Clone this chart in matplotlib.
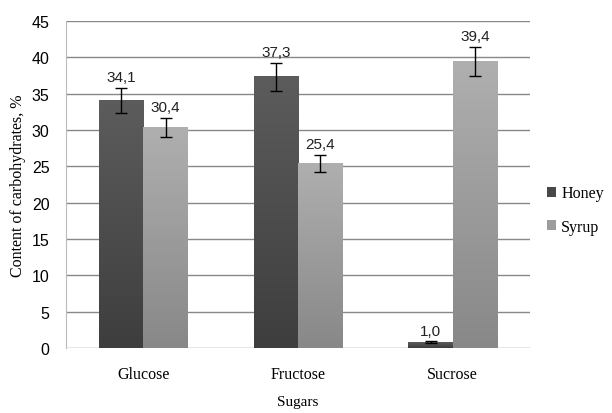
import matplotlib
matplotlib.use("Agg")
import matplotlib.pyplot as plt
import numpy as np
from matplotlib.patches import Patch
from matplotlib.colors import LinearSegmentedColormap

categories = ["Glucose", "Fructose", "Sucrose"]
honey = [34.1, 37.3, 0.8]
honey_err = [1.7, 1.9, 0.1]
honey_labels = ["34,1", "37,3", "1,0"]
syrup = [30.4, 25.4, 39.4]
syrup_err = [1.3, 1.2, 2.0]
syrup_labels = ["30,4", "25,4", "39,4"]
yticks = [0, 5, 10, 15, 20, 25, 30, 35, 40, 45]

narrow = ["Liberation Sans Narrow", "Liberation Sans", "DejaVu Sans"]
serif = ["Liberation Serif", "DejaVu Serif"]

fig = plt.figure(figsize=(6.12, 4.14), dpi=100)
ax = fig.add_axes([0.108, 0.157, 0.758, 0.79])

x = np.arange(len(categories))
w = 0.286
cm_honey = LinearSegmentedColormap.from_list("h", ["#3e3e3e", "#5c5c5c"])
cm_syrup = LinearSegmentedColormap.from_list("s", ["#888888", "#afafaf"])
grad = np.linspace(0, 1, 100).reshape(-1, 1)

for vals, errs, labs, off, cmap in [(honey, honey_err, honey_labels, -w / 2, cm_honey),
                                     (syrup, syrup_err, syrup_labels, w / 2, cm_syrup)]:
    for xi, v, e, lab in zip(x, vals, errs, labs):
        xc = xi + off
        ax.imshow(grad, cmap=cmap, origin="lower", aspect="auto",
                  extent=(xc - w / 2, xc + w / 2, 0, v), zorder=2)
        ax.errorbar(xc, v, yerr=e, fmt="none", ecolor="black", elinewidth=1,
                    capsize=4, capthick=1, zorder=3)
        ax.text(xc, v + e + 0.5, lab, ha="center", va="bottom", fontsize=11,
                family=narrow, color="#222222")

ax.set_xlim(-0.5, 2.5)
ax.set_ylim(0, 45)
ax.set_yticks(yticks)
ax.set_xticks(x)
ax.set_xticklabels(categories, family=serif, fontsize=11.5)
for t in ax.get_yticklabels():
    t.set_family(narrow)
    t.set_fontsize(11.5)
ax.tick_params(length=0, pad=12)
ax.tick_params(axis="x", pad=13)
ax.yaxis.grid(True, color="#888888", linewidth=1)
ax.set_axisbelow(True)
for s in ["top", "right", "bottom"]:
    ax.spines[s].set_visible(False)
ax.spines["left"].set_color("#bbbbbb")

ax.set_ylabel("Content of carbohydrates, %", family=serif, fontsize=11.5, labelpad=4)
ax.set_xlabel("Sugars", family=serif, fontsize=11, labelpad=9)

handles = [Patch(facecolor="#484848", label="Honey"), Patch(facecolor="#9c9c9c", label="Syrup")]
leg = fig.legend(handles=handles, loc="center left", bbox_to_anchor=(0.87, 0.49),
                 frameon=False, handlelength=0.6, handleheight=0.6, handletextpad=0.3,
                 labelspacing=1.1, prop={"family": serif, "size": 11.5})

fig.savefig("out.png", dpi=100)
